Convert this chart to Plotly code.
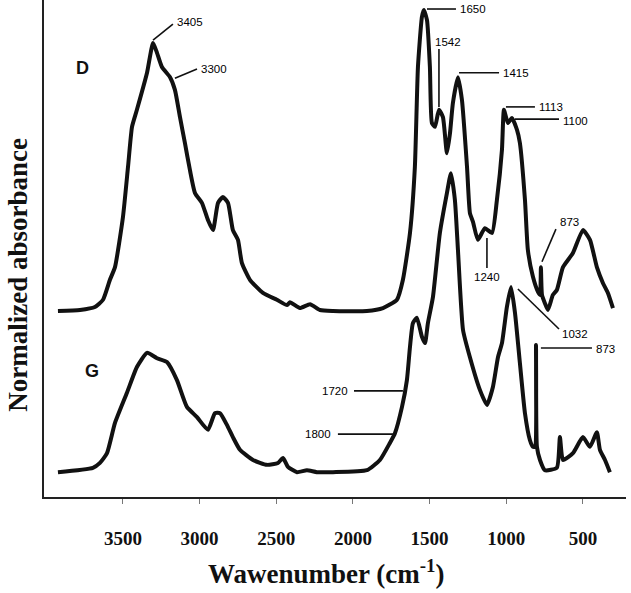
import plotly.graph_objects as go

# ---- data (wavenumber cm-1, normalized absorbance) ----
d_wavenumber = [3924, 3780, 3683, 3630, 3585, 3552, 3500, 3467, 3441, 3409, 3343, 3304,
                3278, 3246, 3193, 3161, 3128, 3096, 3063, 3030, 2985, 2946, 2913, 2880,
                2848, 2815, 2783, 2750, 2724, 2672, 2587, 2496, 2430, 2411, 2346, 2280,
                2215, 2130, 1909, 1804, 1713, 1674, 1628, 1596, 1576, 1550, 1537, 1517,
                1498, 1485, 1465, 1439, 1413, 1387, 1367, 1348, 1315, 1289, 1256, 1237,
                1217, 1185, 1139, 1093, 1061, 1028, 1015, 989, 963, 930, 911, 878, 859,
                826, 793, 780, 774, 767, 748, 728, 696, 670, 630, 565, 500, 454, 409,
                369, 337, 304]
d_absorbance = [0.382, 0.384, 0.390, 0.405, 0.446, 0.472, 0.575, 0.678, 0.760, 0.795, 0.871, 0.932,
                0.912, 0.883, 0.862, 0.836, 0.780, 0.727, 0.671, 0.624, 0.604, 0.569, 0.548, 0.604,
                0.616, 0.604, 0.548, 0.528, 0.480, 0.446, 0.419, 0.405, 0.394, 0.400, 0.388, 0.396,
                0.384, 0.382, 0.382, 0.388, 0.405, 0.446, 0.542, 0.678, 0.883, 0.986, 1.000, 0.979,
                0.883, 0.768, 0.760, 0.795, 0.780, 0.706, 0.747, 0.809, 0.862, 0.815, 0.678, 0.583,
                0.565, 0.528, 0.552, 0.542, 0.610, 0.713, 0.795, 0.768, 0.778, 0.754, 0.727, 0.610, 0.507,
                0.452, 0.421, 0.415, 0.472, 0.415, 0.398, 0.384, 0.415, 0.425, 0.472, 0.501, 0.548, 0.528, 0.472,
                0.439, 0.419, 0.388]

g_wavenumber = [3924, 3696, 3650, 3604, 3552, 3474, 3409, 3343, 3278, 3213, 3148, 3083,
                3017, 2946, 2900, 2867, 2822, 2783, 2737, 2652, 2561, 2489, 2456, 2424,
                2365, 2300, 2235, 2130, 1909, 1824, 1759, 1726, 1680, 1648, 1628, 1609,
                1583, 1550, 1530, 1511, 1478, 1433, 1387, 1361, 1335, 1315, 1282, 1237,
                1172, 1126, 1087, 1054, 1028, 996, 969, 943, 911, 878, 846, 826, 813,
                806, 800, 780, 748, 670, 650, 630, 565, 500, 454, 409, 389, 356, 324]
g_absorbance = [0.051, 0.060, 0.070, 0.090, 0.152, 0.214, 0.267, 0.296, 0.285, 0.277, 0.240, 0.185,
                0.164, 0.138, 0.172, 0.172, 0.148, 0.123, 0.097, 0.076, 0.066, 0.070, 0.080, 0.062,
                0.051, 0.055, 0.051, 0.051, 0.055, 0.076, 0.111, 0.131, 0.185, 0.240, 0.308, 0.357,
                0.368, 0.329, 0.316, 0.357, 0.411, 0.542, 0.624, 0.665, 0.610, 0.507, 0.343, 0.287,
                0.220, 0.189, 0.226, 0.287, 0.316, 0.390, 0.431, 0.378, 0.275, 0.172, 0.117, 0.103, 0.103,
                0.312, 0.103, 0.076, 0.055, 0.060, 0.123, 0.076, 0.090, 0.123, 0.103, 0.133, 0.097, 0.076, 0.051]

tick_values = [3500, 3000, 2500, 2000, 1500, 1000, 500]

# peak labels: text, label position (w, a), anchor, leader line (w1, a1, w2, a2)
peak_labels = ["3405", "3300", "1650", "1542", "1415", "1113", "1100", "1240",
               "873", "1032", "873", "1720", "1800"]
label_pos = [(3161, 0.975, "left"), (3004, 0.879, "left"), (1315, 1.002, "left"),
             (1380, 0.934, "center"), (1034, 0.871, "left"), (800, 0.801, "left"),
             (643, 0.772, "left"), (1126, 0.452, "center"), (663, 0.565, "left"),
             (650, 0.335, "left"), (428, 0.304, "left"), (2019, 0.218, "right"),
             (2130, 0.129, "right")]
leader_lines = [(3304, 0.938, 3174, 0.971), (3161, 0.860, 3017, 0.879),
                (1517, 1.002, 1328, 1.002), (1439, 0.920, 1439, 0.801),
                (1308, 0.871, 1047, 0.871), (1002, 0.801, 813, 0.801),
                (943, 0.776, 656, 0.776), (1126, 0.532, 1126, 0.470),
                (767, 0.483, 676, 0.550), (924, 0.427, 656, 0.345),
                (774, 0.306, 441, 0.306), (1993, 0.218, 1674, 0.218),
                (2098, 0.129, 1739, 0.129)]

fig = go.Figure()
for xs, ys in [(d_wavenumber, d_absorbance), (g_wavenumber, g_absorbance)]:
    fig.add_trace(go.Scatter(x=xs, y=ys, mode="lines",
                             line=dict(color="#111111", width=4, shape="spline", smoothing=0.5),
                             showlegend=False, hoverinfo="skip"))

for txt, (x, y, anc) in zip(peak_labels, label_pos):
    fig.add_annotation(x=x, y=y, text=txt, showarrow=False, xanchor=anc, yanchor="middle",
                       font=dict(family="Liberation Sans, Arial", size=11.5, color="#000"))
for (x1, y1, x2, y2) in leader_lines:
    fig.add_shape(type="line", x0=x1, y0=y1, x1=x2, y1=y2,
                  line=dict(color="#111", width=1.6))

fig.add_annotation(x=3761, y=0.881, text="D", showarrow=False,
                   font=dict(family="Liberation Sans, Arial", size=18, weight="bold", color="#111"))
fig.add_annotation(x=3702, y=0.259, text="G", showarrow=False,
                   font=dict(family="Liberation Sans, Arial", size=18, weight="bold", color="#111"))

fig.add_annotation(xref="paper", yref="paper", x=0.4845, y=-0.150, xanchor="center", yanchor="middle",
                   text="Wawenumber (cm<sup>-1</sup>)", showarrow=False,
                   font=dict(family="Liberation Serif, Times New Roman", size=27, weight="bold", color="#111"))
fig.add_annotation(xref="paper", yref="paper", x=-0.045, y=0.4467, xanchor="center", yanchor="middle",
                   text="Normalized absorbance", textangle=-90, showarrow=False,
                   font=dict(family="Liberation Serif, Times New Roman", size=27, weight="bold", color="#111"))

fig.update_layout(
    width=631, height=593,
    margin=dict(l=44, r=5, t=0, b=96, autoexpand=False),
    paper_bgcolor="white", plot_bgcolor="white",
    xaxis=dict(range=[4015, 219], tickvals=tick_values, ticks="outside", ticklen=5,
               tickcolor="#777", tickwidth=1, showline=True, linecolor="#222", linewidth=1.6,
               showgrid=False, zeroline=False, ticklabelstandoff=18, automargin=False,
               tickfont=dict(family="Liberation Serif, Times New Roman", size=19, weight="bold", color="#111")),
    yaxis=dict(range=[0, 1.0205], showticklabels=False, ticks="", showline=True, automargin=False,
               linecolor="#222", linewidth=1.6, showgrid=False, zeroline=False),
)

fig.write_html("out.html", config={"displayModeBar": False},
               post_script="document.body.style.margin='0px';document.body.style.overflow='hidden';")
